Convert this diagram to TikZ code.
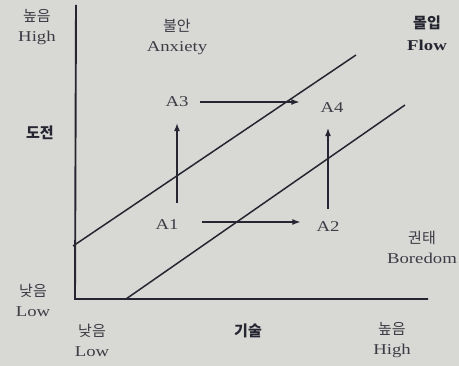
\documentclass[tikz,border=0pt]{standalone}
\usepackage{fontspec}
\setmainfont{Liberation Serif}[FakeStretch=1.25]
\newfontfamily\kr{Noto Sans CJK KR}
\usetikzlibrary{arrows.meta}
\definecolor{paper}{RGB}{216,217,212}
\definecolor{ink}{RGB}{38,38,50}

\begin{document}
\begin{tikzpicture}[x=1pt, y=-1pt,
    lbl/.style={font=\fontsize{15}{20}\selectfont, text=ink!90, align=center, inner sep=2pt},
    head/.style={lbl, font=\fontsize{15}{22}\selectfont\bfseries, text=ink},
    state/.style={lbl, inner sep=2pt},
    axis/.style={draw=ink, line width=1.9pt},
    band/.style={draw=ink, line width=1.5pt},
    arrow/.style={-{Latex[length=8pt,width=6pt]}, draw=ink, line width=1.1pt}
]
\fill[paper] (0,0) rectangle (459,366);
\useasboundingbox (0,0) rectangle (459,366);

% axes and flow channel
\coordinate (top) at (76,5);
\coordinate (O) at (75,299);
\coordinate (xend) at (428,299);
\coordinate (up0) at (73,246);
\coordinate (up1) at (356,55);
\coordinate (lo0) at (126,299);
\coordinate (lo1) at (405,105);
\draw[axis] (top) -- (O) -- (xend);
\draw[band] (up0) -- (up1);
\draw[band] (lo0) -- (lo1);

% axis labels
\node[lbl] (hiY) at (37,27) {{\kr 높음}\\High};
\node[head] (chal) at (40,133) {\kr 도전};
\node[lbl] (loY) at (33,300) {{\kr 낮음}\\Low};
\node[lbl] (loX) at (92,340) {{\kr 낮음}\\Low};
\node[head] (skill) at (248,331) {\kr 기술};
\node[lbl] (hiX) at (392,340) {{\kr 높음}\\High};

% regions
\node[lbl] (anx) at (177,37) {{\kr 불안}\\Anxiety};
\node[head] (flow) at (427,33) {{\kr 몰입}\\Flow};
\node[lbl] (bore) at (422,247) {{\kr 권태}\\Boredom};

% states
\node[state] (A1) at (167,225) {A1};
\node[state] (A2) at (328,227) {A2};
\node[state] (A3) at (177,102) {A3};
\node[state] (A4) at (332,108) {A4};

\draw[arrow, shorten <=15pt, shorten >=14pt] (A1.north -| A3) -- (A3.south);
\draw[arrow, shorten <=21pt, shorten >=14pt] ([yshift=3pt]A1.east) -- ([yshift=3pt]A1.east -| A2.west);
\draw[arrow, shorten <=9pt, shorten >=19pt] (A3.east) -- (A3.east -| A4.west);
\draw[arrow, shorten <=11pt, shorten >=13pt] (A2.north) -- (A2.north |- A4.south);

\end{tikzpicture}
\end{document}
